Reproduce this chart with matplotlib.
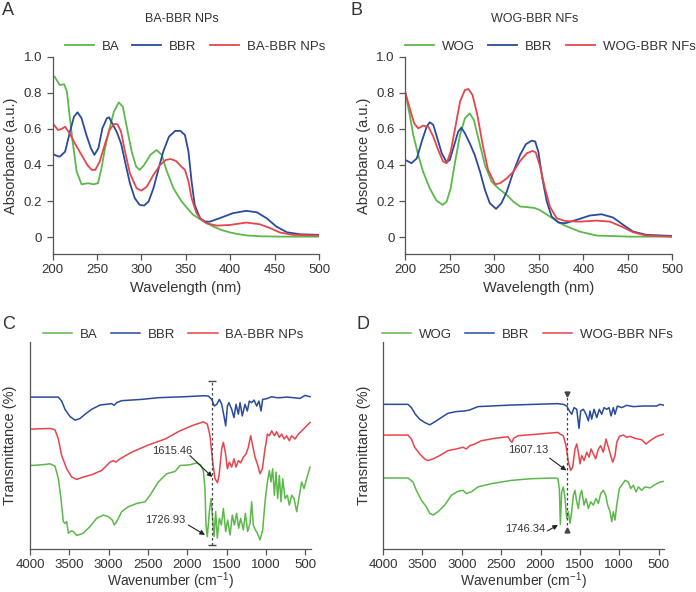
import matplotlib
matplotlib.use("Agg")
import matplotlib.pyplot as plt

plt.rcParams["font.family"] = ["Liberation Sans", "DejaVu Sans"]
plt.rcParams["mathtext.fontset"] = "custom"
plt.rcParams["mathtext.rm"] = "Liberation Sans"
plt.rcParams["mathtext.default"] = "regular"

GREEN = "#5cb84a"
BLUE = "#2a4b9b"
RED = "#e8444b"
TXT = "#333333"
AXC = "#555555"

# ---- UV-vis, panel A (BA-BBR NPs) ----
a_ba_wl = [200, 202, 208, 213, 216, 219, 222.5, 227, 232.5, 240, 246, 251, 255, 259, 264, 269,
           274.5, 279, 283, 289, 294, 298, 303, 310, 317, 323, 328, 336, 345, 350, 358, 366,
           374, 381, 390, 400, 410, 420, 435, 456, 480, 500]
a_ba = [0.885, 0.89, 0.843, 0.847, 0.806, 0.677, 0.53, 0.363, 0.293, 0.299, 0.293, 0.299, 0.382,
        0.493, 0.603, 0.696, 0.747, 0.723, 0.622, 0.474, 0.391, 0.373, 0.40, 0.456, 0.483, 0.456,
        0.373, 0.271, 0.20, 0.17, 0.125, 0.10, 0.078, 0.059, 0.04, 0.026, 0.016, 0.009, 0.005,
        0.003, 0.003, 0.003]
a_bbr_wl = [200, 204, 208, 214, 219.5, 224, 228, 232.5, 238, 243, 247, 251.5, 256, 261, 263.5,
            267, 272, 277, 281.5, 287, 292.5, 298, 303, 308, 313.5, 319, 324.5, 331, 338, 344,
            349, 353, 356.5, 360, 366, 372, 377, 388, 403, 418, 430, 441, 452, 464, 479, 500]
a_bbr = [0.461, 0.452, 0.446, 0.474, 0.585, 0.668, 0.692, 0.659, 0.566, 0.493, 0.456, 0.493,
         0.603, 0.659, 0.664, 0.631, 0.585, 0.52, 0.419, 0.299, 0.216, 0.179, 0.175, 0.197,
         0.271, 0.373, 0.474, 0.557, 0.589, 0.589, 0.566, 0.474, 0.308, 0.179, 0.105, 0.086,
         0.086, 0.105, 0.133, 0.146, 0.138, 0.105, 0.059, 0.027, 0.016, 0.013]
a_np_wl = [200, 206, 210, 214, 219, 225, 232.5, 239, 244, 248, 253, 258, 264, 269, 273, 277,
           281.5, 287, 294.5, 300, 306, 313.5, 321, 327.5, 333, 339, 345, 349, 353, 356.5, 362,
           368, 373, 385, 400, 418, 433, 445, 456, 471, 500]
a_np = [0.631, 0.594, 0.60, 0.612, 0.576, 0.52, 0.456, 0.40, 0.373, 0.373, 0.419, 0.502, 0.594,
        0.627, 0.626, 0.585, 0.474, 0.354, 0.271, 0.258, 0.28, 0.345, 0.40, 0.428, 0.433, 0.422,
        0.391, 0.373, 0.308, 0.216, 0.133, 0.096, 0.077, 0.064, 0.068, 0.081, 0.072, 0.05,
        0.026, 0.013, 0.009]

# ---- UV-vis, panel B (WOG-BBR NFs) ----
b_wog_wl = [200, 205, 209, 214.5, 220, 227.5, 235, 242, 246.5, 251, 256, 261.5, 267, 272.5, 277,
            283, 289.5, 297, 304.5, 314, 321.5, 329, 338, 345, 351, 362.5, 377.5, 396, 415, 452, 500]
b_wog = [0.803, 0.677, 0.566, 0.456, 0.363, 0.271, 0.203, 0.179, 0.197, 0.271, 0.419, 0.566,
         0.659, 0.686, 0.65, 0.53, 0.40, 0.308, 0.271, 0.234, 0.197, 0.17, 0.166, 0.162, 0.151,
         0.114, 0.068, 0.031, 0.009, 0.003, 0.003]
b_bbr_wl = [200, 207, 213, 218.5, 224, 227.5, 231.5, 236, 241, 246.5, 250, 255, 259.5, 263, 267,
            272.5, 278, 284, 289.5, 295, 302, 308, 314, 321.5, 329, 335.5, 342, 346, 349.5, 354,
            359, 364.5, 372, 379.5, 392.5, 407.5, 420.5, 433.5, 445, 456, 471, 500]
b_bbr = [0.428, 0.41, 0.437, 0.53, 0.612, 0.637, 0.622, 0.548, 0.465, 0.415, 0.428, 0.511, 0.585,
         0.607, 0.576, 0.52, 0.456, 0.363, 0.262, 0.188, 0.157, 0.188, 0.252, 0.363, 0.456, 0.515,
         0.535, 0.53, 0.474, 0.326, 0.197, 0.114, 0.081, 0.077, 0.096, 0.12, 0.127, 0.109, 0.068,
         0.031, 0.013, 0.007]
b_nf_wl = [200, 205, 210, 214.5, 220, 226, 231.5, 237, 242.5, 246.5, 251, 256, 261.5, 267, 271,
           275.5, 281, 287, 293, 301, 306.5, 314, 321.5, 329, 336.5, 343, 346.5, 351, 357, 362.5,
           370, 379.5, 396, 415, 430, 443, 456, 471, 500]
b_nf = [0.803, 0.714, 0.631, 0.603, 0.618, 0.612, 0.557, 0.483, 0.419, 0.41, 0.474, 0.603, 0.751,
        0.816, 0.821, 0.788, 0.677, 0.511, 0.373, 0.293, 0.299, 0.326, 0.363, 0.422, 0.465, 0.478,
        0.47, 0.40, 0.271, 0.17, 0.105, 0.09, 0.086, 0.092, 0.086, 0.059, 0.027, 0.009, 0.003]

# ---- FTIR, panel C (relative transmittance, stacked) ----
c_bbr_wn = [4000, 3640, 3597, 3555, 3491, 3427, 3364, 3300, 3215, 3109, 2961, 2930, 2897, 2834,
            2579, 2367, 2028, 1780, 1731, 1689, 1655, 1625, 1591, 1561, 1532, 1510, 1489, 1470,
            1434, 1405, 1379, 1349, 1328, 1299, 1265, 1235, 1210, 1180, 1150, 1116, 1087, 1061,
            1040, 989, 925, 862, 819, 734, 650, 565, 501, 438]
c_bbr = [153.3, 153.3, 149.3, 141, 133.7, 130, 131.7, 136, 141, 145.3, 146.7, 145, 147.7, 149.7,
         151, 152.7, 153.7, 154.7, 154.3, 151, 144.3, 146, 151, 146, 134, 124.3, 144, 147.7, 141,
         132.7, 146, 136, 147.7, 134.3, 146, 139.3, 149.3, 147.7, 150.3, 144.3, 149.3, 139.3, 151,
         151.7, 153.7, 152.7, 152.7, 153.3, 152.7, 152, 155, 153.7]
c_np_wn = [4000, 3745, 3682, 3639, 3597, 3533, 3470, 3406, 3322, 3215, 3088, 2982, 2940, 2910,
           2855, 2707, 2494, 2282, 2092, 1922, 1795, 1744, 1710, 1676, 1646, 1615, 1595, 1561,
           1540, 1515, 1489, 1464, 1434, 1405, 1379, 1349, 1320, 1286, 1252, 1222, 1193, 1167,
           1137, 1108, 1074, 1044, 1010, 980, 955, 925, 891, 862, 828, 798, 768, 735, 701, 671,
           628, 586, 522, 438]
c_np = [121, 121.7, 120.3, 111, 94.3, 81, 72.7, 70.3, 72.7, 75, 79.3, 87.7, 89.3, 87.7, 91, 97.7,
        105, 111, 119.3, 125, 128.3, 126, 114.3, 87.7, 71, 67, 74.3, 101, 107.7, 97.7, 81, 87.7,
        82.7, 91, 82.7, 89.3, 87, 92.7, 96, 102.7, 114.3, 104.3, 92.7, 86, 76, 81, 101, 116,
        114.3, 119.3, 114.3, 118.3, 112.7, 116, 111, 114.3, 109.3, 114.3, 111, 116, 121, 127.7]
c_ba_wn = [4000, 3852, 3745, 3682, 3639, 3606, 3576, 3555, 3534, 3512, 3478, 3449, 3406, 3322,
           3237, 3152, 3067, 3004, 2953, 2927, 2897, 2834, 2749, 2643, 2537, 2473, 2367, 2261,
           2155, 2092, 1964, 1880, 1829, 1795, 1774, 1761, 1744, 1718, 1697, 1680, 1659, 1638,
           1617, 1591, 1566, 1540, 1511, 1485, 1455, 1426, 1400, 1371, 1345, 1320, 1286, 1260,
           1231, 1201, 1180, 1159, 1133, 1108, 1074, 1040, 1010, 980, 955, 934, 913, 891, 870,
           849, 828, 807, 785, 756, 726, 701, 671, 641, 607, 573, 544, 514, 480, 438]
c_ba = [84.3, 85, 86, 83.7, 71, 51, 27.7, 26, 27.7, 16, 18.3, 17.7, 13.7, 16, 22.7, 31, 34.3,
        32.7, 29.3, 24.3, 27.7, 37.7, 42.7, 46, 47.7, 54.3, 67.7, 76, 78.3, 84.3, 85, 87, 85,
        79.3, 61, 24.3, 12.7, 37.7, 51, 34.3, 12.7, 37.7, 11, 31, 24.3, 41, 17.7, 29.3, 14.3,
        34.3, 24.3, 36, 21, 31, 19.3, 36, 17.7, 26, 47.7, 24.3, 19.3, 16, 9.3, 19.3, 47.7, 67.7,
        79.3, 67.7, 81, 54.3, 77.7, 51, 74.3, 47.7, 71, 51, 54.3, 44.3, 54.3, 51, 37.7, 54.3,
        67.7, 61, 71, 82.7]

# ---- FTIR, panel D ----
d_bbr_wn = [4000, 3683, 3640, 3589, 3534, 3471, 3407, 3344, 3259, 3175, 3069, 2963, 2899, 2857,
            2794, 2370, 1778, 1752, 1710, 1667, 1633, 1604, 1574, 1540, 1511, 1490, 1456, 1422,
            1392, 1371, 1350, 1320, 1286, 1253, 1223, 1193, 1159, 1130, 1104, 1075, 1054, 1024,
            969, 905, 821, 694, 524, 482, 432]
d_bbr = [146, 146, 142.7, 136, 131, 127.7, 125.3, 128.3, 132.7, 137, 138.7, 139.3, 140.3, 141.7,
         143.7, 145.3, 146.7, 146.3, 146, 144.3, 139.3, 136, 142.7, 141, 121.7, 139.3, 141, 136,
         129.3, 139.3, 131, 141, 132.7, 141, 136, 142.7, 141, 142.7, 134.3, 142.7, 136, 144.3,
         142.7, 145, 143.7, 144.3, 144.3, 146, 145]
d_nf_wn = [4000, 3683, 3640, 3598, 3534, 3471, 3429, 3365, 3280, 3175, 3069, 2984, 2942, 2899,
           2836, 2751, 2582, 2413, 2383, 2362, 2341, 2286, 1778, 1752, 1710, 1676, 1646, 1617,
           1591, 1562, 1540, 1519, 1498, 1477, 1447, 1413, 1384, 1358, 1329, 1299, 1265, 1236,
           1202, 1168, 1138, 1109, 1083, 1054, 1032, 999, 948, 905, 863, 800, 715, 660, 609, 524, 432]
d_nf = [115, 115, 111, 102.7, 96, 91, 89.3, 91, 94.3, 99.3, 101, 102.7, 101, 104.3, 106, 109.3,
        111.7, 113.3, 109.3, 107.7, 111.7, 114.3, 117.7, 116, 114.3, 104.3, 87.7, 79.3, 82.7, 101,
        106, 97.7, 86, 94.3, 89.3, 97.7, 92.7, 101, 96, 91, 101, 104.3, 97.7, 111, 102.7, 94.3,
        87.7, 94.3, 107.7, 113.7, 115, 112.7, 113.7, 111.7, 110.3, 106, 109.3, 113.7, 116]
d_wog_wn = [4000, 3683, 3619, 3577, 3513, 3450, 3407, 3365, 3302, 3217, 3132, 3048, 2984, 2942,
            2878, 2794, 2624, 2370, 2116, 1820, 1778, 1760, 1748, 1731, 1710, 1688, 1667, 1646,
            1625, 1604, 1583, 1562, 1540, 1519, 1498, 1477, 1447, 1422, 1392, 1363, 1329, 1295,
            1265, 1236, 1202, 1172, 1147, 1117, 1096, 1075, 1054, 1032, 999, 969, 927, 884, 855,
            821, 787, 757, 715, 673, 609, 546, 482, 432]
d_wog = [71.7, 71.7, 67.7, 59.3, 49.3, 42.7, 36, 34.3, 37.7, 44.3, 54.3, 58.3, 59.3, 56, 57.7,
         62.7, 66, 69.3, 71, 71.7, 71, 60, 25, 57.7, 62.7, 51, 31, 37.7, 26, 37.7, 54.3, 59.3,
         47.7, 41, 54.3, 59.3, 44.3, 51, 41, 47.7, 44.3, 51, 46, 56, 59.3, 54.3, 44.3, 37.7, 27.7,
         37.7, 29.3, 44.3, 61, 64.3, 69.3, 67.7, 61, 64.3, 57.7, 62.7, 59.3, 62.7, 61.7, 65, 67.7,
         68.3]

fig = plt.figure(figsize=(6.96, 5.92), dpi=100)


def style_axes(ax):
    for s in ("top", "right"):
        ax.spines[s].set_visible(False)
    for s in ("left", "bottom"):
        ax.spines[s].set_color(AXC)
        ax.spines[s].set_linewidth(0.9)
    ax.tick_params(colors=AXC, labelcolor=TXT, labelsize=9.5, length=4, width=0.9, direction="out")


def uv_panel(rect, series, lx):
    ax = fig.add_axes(rect)
    style_axes(ax)
    for wl, vals, c, lab in series:
        ax.plot(wl, vals, color=c, lw=1.3, label=lab)
    ax.set_xlim(200, 500)
    ax.set_ylim(-0.093, 1.0)
    ax.set_xticks([200, 250, 300, 350, 400, 450, 500])
    ax.set_yticks([0, 0.2, 0.4, 0.6, 0.8, 1.0])
    ax.set_yticklabels(["0", "0.2", "0.4", "0.6", "0.8", "1.0"])
    ax.set_xlabel("Wavelength (nm)", fontsize=10.5, color=TXT, labelpad=3)
    ax.set_ylabel("Absorbance (a.u.)", fontsize=10.5, color=TXT, labelpad=4)
    ax.legend(loc="center", bbox_to_anchor=(lx, 1.05), ncol=3, frameon=False, fontsize=9.5,
              handlelength=2.2, columnspacing=1.0, handletextpad=0.6, labelcolor=TXT)
    return ax


def ir_panel(rect, xmax_right, series, lx):
    ax = fig.add_axes(rect)
    style_axes(ax)
    for wn, vals, c, lab in series:
        ax.plot(wn, vals, color=c, lw=1.1, label=lab)
    ax.set_xlim(4000, xmax_right)
    ax.set_ylim(0, 209)
    ax.set_xticks([4000, 3500, 3000, 2500, 2000, 1500, 1000, 500])
    ax.set_yticks([])
    ax.set_xlabel(r"Wavenumber (cm$^{-1}$)", fontsize=10, color=TXT, labelpad=-1)
    ax.set_ylabel("Transmittance (%)", fontsize=10.5, color=TXT, labelpad=9)
    ax.legend(loc="center", bbox_to_anchor=(lx, 1.035), ncol=3, frameon=False, fontsize=9.5,
              handlelength=2.2, columnspacing=1.0, handletextpad=0.6, labelcolor=TXT)
    return ax


uv_panel([0.0757, 0.571, 0.3826, 0.3332],
         [(a_ba_wl, a_ba, GREEN, "BA"), (a_bbr_wl, a_bbr, BLUE, "BBR"),
          (a_np_wl, a_np, RED, "BA-BBR NPs")], 0.534)
uv_panel([0.5823, 0.571, 0.3836, 0.3332],
         [(b_wog_wl, b_wog, GREEN, "WOG"), (b_bbr_wl, b_bbr, BLUE, "BBR"),
          (b_nf_wl, b_nf, RED, "WOG-BBR NFs")], 0.544)

axc = ir_panel([0.0431, 0.0725, 0.4033, 0.350], 429,
               [(c_ba_wn, c_ba, GREEN, "BA"), (c_bbr_wn, c_bbr, BLUE, "BBR"),
                (c_np_wn, c_np, RED, "BA-BBR NPs")], 0.511)
axd = ir_panel([0.5503, 0.0725, 0.4037, 0.350], 432,
               [(d_wog_wn, d_wog, GREEN, "WOG"), (d_bbr_wn, d_bbr, BLUE, "BBR"),
                (d_nf_wn, d_nf, RED, "WOG-BBR NFs")], 0.514)

arrow = dict(arrowstyle="-|>", color="#222222", lw=0.8, mutation_scale=7, shrinkA=0, shrinkB=0)

# panel C markers
axc.plot([1681, 1681], [4.3, 169.3], ls=(0, (2, 2)), color="#444444", lw=0.9)
axc.plot([1681, 1681], [4.3, 169.3], ls="none", marker="_", ms=6, color="#444444", mew=1)
axc.text(2197, 99.3, "1615.46", fontsize=8, color=TXT, ha="center", va="center")
axc.annotate("", xy=(1681, 72.7), xytext=(1965, 94.3), arrowprops=arrow)
axc.text(2274, 29.3, "1726.93", fontsize=8, color=TXT, ha="center", va="center")
axc.annotate("", xy=(1774, 14.3), xytext=(1986, 24.3), arrowprops=arrow)

# panel D markers
axd.plot([1663, 1663], [19.3, 156], ls=(0, (2, 2)), color="#444444", lw=0.9)
axd.plot([1663], [156], ls="none", marker="v", ms=3.5, color="#444444")
axd.plot([1663], [19.3], ls="none", marker="^", ms=3.5, color="#444444")
axd.text(2158, 100.3, "1607.13", fontsize=8, color=TXT, ha="center", va="center")
axd.annotate("", xy=(1672, 79.3), xytext=(1883, 91.7), arrowprops=arrow)
axd.text(2201, 20, "1746.34", fontsize=8, color=TXT, ha="center", va="center")
axd.annotate("", xy=(1778, 24.3), xytext=(1913, 18.3), arrowprops=arrow)

# titles above the UV panels
fig.text(181.7 / 696, 1 - 19 / 592, "BA-BBR NPs", fontsize=9, color=TXT, ha="center", va="center")
fig.text(534.7 / 696, 1 - 19 / 592, "WOG-BBR NFs", fontsize=9, color=TXT, ha="center", va="center")

for lab, x, y in [("A", 0.003, 0.997), ("B", 0.503, 0.997), ("C", 0.003, 0.467), ("D", 0.512, 0.467)]:
    fig.text(x, y, lab, fontsize=13, color=TXT, ha="left", va="top")

fig.savefig("out.png", dpi=100)
